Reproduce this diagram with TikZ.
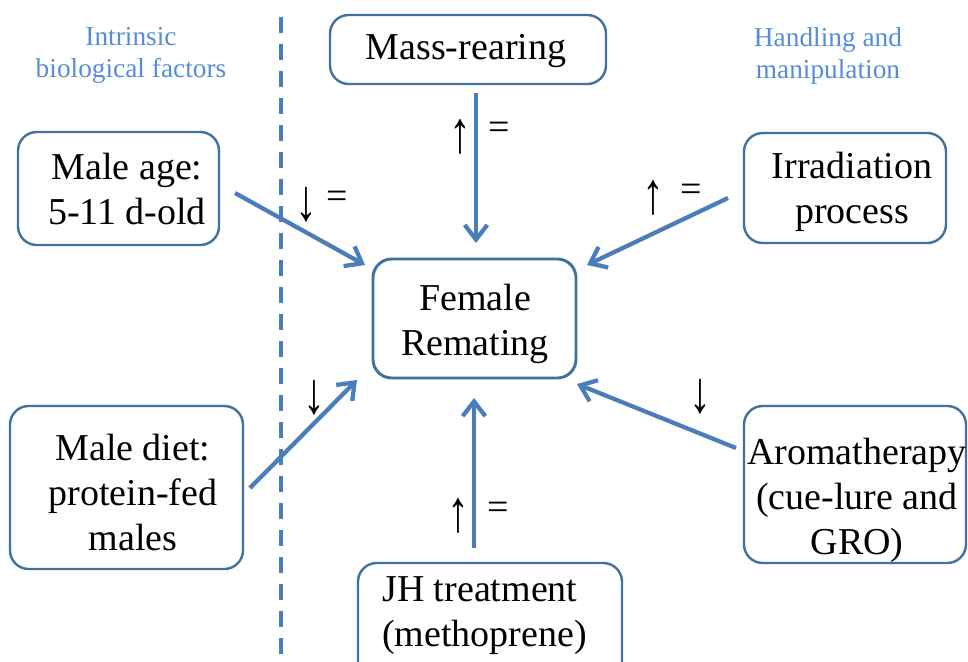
\documentclass[tikz,border=0pt]{standalone}
\usepackage{fontspec}
\setmainfont{Liberation Serif}
\usetikzlibrary{arrows.meta,fit}
\definecolor{boxblue}{RGB}{65,113,156}
\definecolor{arrblue}{RGB}{74,126,187}
\definecolor{labblue}{RGB}{85,142,213}
\newcommand{\upar}{\scalebox{1.15}[1.55]{↑}}
\newcommand{\dnar}{\scalebox{1.15}[1.55]{↓}}
\tikzset{
  box/.style={draw=boxblue, line width=1.8pt, rounded corners=14pt, inner sep=0pt},
  txt/.style={font=\fontsize{28.5}{33.75}\selectfont, align=center, inner sep=0pt, text=black},
  sym/.style={font=\fontsize{28.5}{33.75}\selectfont, inner sep=0pt, text=black},
  lab/.style={font=\fontsize{20.5}{24}\selectfont, align=center, inner sep=0pt, text=labblue},
  arr/.style={draw=arrblue, line width=3.2pt, -{Straight Barb[length=11pt,width=17pt]}},
  divider/.style={draw=arrblue, line width=3pt, dash pattern=on 12pt off 8.25pt}
}
\begin{document}
\begin{tikzpicture}[x=0.75pt,y=-0.75pt]
\useasboundingbox (0,0) rectangle (968,661);
\clip (0,0) rectangle (968,661);
\fill[white] (0,0) rectangle (968,661);

% divider
\coordinate (dtop) at (281,17);
\coordinate (dbot) at (281,661);
\draw[divider] (dtop) -- (dbot);

% group labels
\node[lab] (intr) at (131,55) {Intrinsic\\biological factors};
\node[lab] (hand) at (828,56) {Handling and\\manipulation};

% boxes
\node[box, fit={(330,15) (606,84)}] (mass) {};
\node[box, fit={(18,132) (219,245)}] (age) {};
\node[box, fit={(744,133) (946,243)}] (irr) {};
\node[box, line width=2.2pt, fit={(373,259) (576,378)}] (fem) {};
\node[box, fit={(10,406) (243,569)}] (diet) {};
\node[box, fit={(744,406) (966,563)}] (aroma) {};
\node[box, fit={(358,563) (622,700)}] (jh) {};

% texts
\node[txt] (masst) at (466,51) {Mass-rearing};
\node[txt] (aget) at (127,189) {Male age:\\5-11 d-old};
\node[txt] (irrt) at (852,192) {Irradiation\\process};
\node[txt] (femt) at (475,324) {Female\\Remating};
\node[txt] (diett) at (133,492) {Male diet:\\protein-fed\\males};
\node[txt] (aromat) at (857,500) {Aromatherapy\\(cue-lure and\\GRO)};
\node[txt, align=left, anchor=west] (jht) at (382,616) {JH treatment\\(methoprene)};

% connector end points
\coordinate (massA) at (476,93);
\coordinate (massB) at (476,243);
\coordinate (ageA) at (235,193);
\coordinate (ageB) at (365,265);
\coordinate (irrA) at (728,198);
\coordinate (irrB) at (587,265);
\coordinate (dietA) at (250,488);
\coordinate (dietB) at (357,380);
\coordinate (aromaA) at (736,448);
\coordinate (aromaB) at (577,384);
\coordinate (jhA) at (474,548);
\coordinate (jhB) at (474,398);

\draw[arr] (massA) -- (massB);
\draw[arr] (ageA) -- (ageB);
\draw[arr] (irrA) -- (irrB);
\draw[arr] (dietA) -- (dietB);
\draw[arr] (aromaA) -- (aromaB);
\draw[arr] (jhA) -- (jhB);

% effect symbols
\node[sym] (s1a) at (460,137) {\upar};
\node[sym] (s1b) at (499,131) {=};
\node[sym] (s2a) at (306,205) {\dnar};
\node[sym] (s2b) at (337,200) {=};
\node[sym] (s3a) at (653,198) {\upar};
\node[sym] (s3b) at (691,193) {=};
\node[sym] (s4a) at (314,398) {\dnar};
\node[sym] (s5a) at (700,397) {\dnar};
\node[sym] (s6a) at (458,516) {\upar};
\node[sym] (s6b) at (498,511) {=};
\end{tikzpicture}
\end{document}
